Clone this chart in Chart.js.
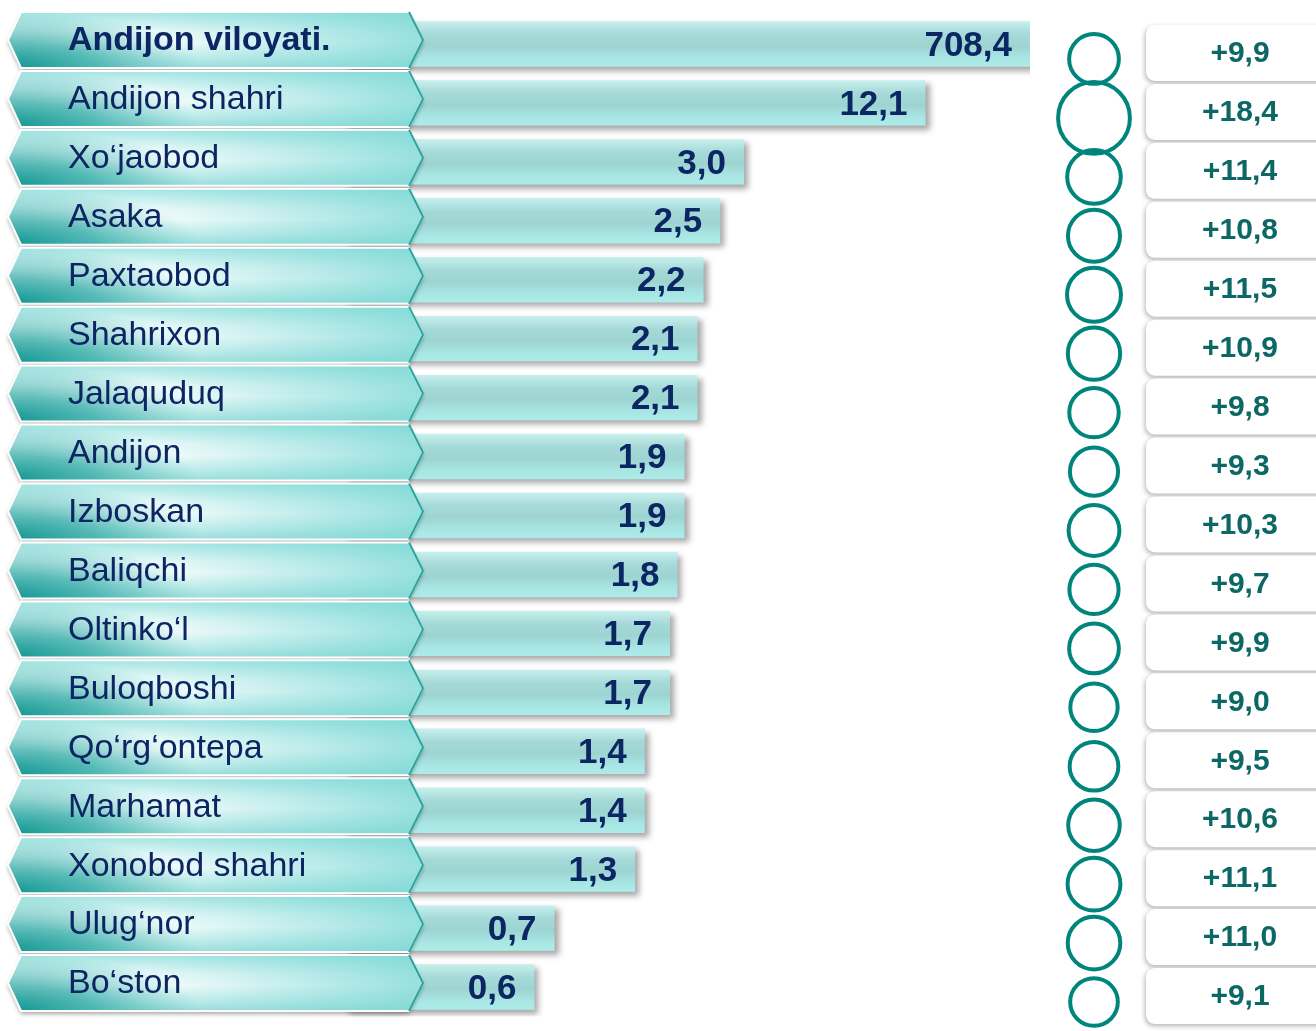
<!DOCTYPE html>
<html lang="uz">
<head>
    <meta charset="UTF-8">
    <title>Andijon viloyati</title>
    <script src="https://cdn.jsdelivr.net/npm/chart.js"></script>
    <style>
        html, body { margin: 0; padding: 0; background: #ffffff; }
        canvas { display: block; }
    </style>
</head>
<body>
    <canvas id="regionChart" width="1316" height="1031"></canvas>

    <script>
        // Data
        const regions = ['Andijon viloyati.', 'Andijon shahri', 'Xo‘jaobod', 'Asaka', 'Paxtaobod', 'Shahrixon', 'Jalaquduq', 'Andijon', 'Izboskan', 'Baliqchi', 'Oltinko‘l', 'Buloqboshi', 'Qo‘rg‘ontepa', 'Marhamat', 'Xonobod shahri', 'Ulug‘nor', 'Bo‘ston'];
        const volume = [708.4, 12.1, 3.0, 2.5, 2.2, 2.1, 2.1, 1.9, 1.9, 1.8, 1.7, 1.7, 1.4, 1.4, 1.3, 0.7, 0.6];
        const growth = [9.9, 18.4, 11.4, 10.8, 11.5, 10.9, 9.8, 9.3, 10.3, 9.7, 9.9, 9.0, 9.5, 10.6, 11.1, 11.0, 9.1];

        const fmt = v => v.toFixed(1).replace('.', ',');
        const navy = '#0b2662';
        const teal = '#00857d';
        const font = '"Liberation Sans", Arial, sans-serif';

        // bar fill: vertical gradient per row
        function barFill(ctx) {
            const chart = ctx.chart;
            const y = chart.scales.y ? chart.scales.y.getPixelForValue(ctx.dataIndex) : NaN;
            if (!isFinite(y)) return '#a2dedb';
            const g = chart.ctx.createLinearGradient(0, y - 23, 0, y + 23);
            g.addColorStop(0, '#c8f0ee');
            g.addColorStop(0.3, '#a4d9d7');
            g.addColorStop(0.55, '#9dd4d2');
            g.addColorStop(0.8, '#a8e6e3');
            g.addColorStop(1, '#aeece9');
            return g;
        }

        // shadow under bars
        const barShadow = {
            id: 'barShadow',
            beforeDatasetsDraw(chart) {
                const c = chart.ctx;
                c.save();
                c.shadowColor = 'rgba(0,0,0,0.35)';
                c.shadowBlur = 6;
                c.shadowOffsetX = 4;
                c.shadowOffsetY = 4;
            },
            afterDatasetsDraw(chart) {
                chart.ctx.restore();
            }
        };

        function labelPath(c, yl, top, bot) {
            c.beginPath();
            c.moveTo(8, yl);
            c.lineTo(21, top);
            c.lineTo(409, top);
            c.lineTo(423, yl);
            c.lineTo(409, bot);
            c.lineTo(21, bot);
            c.closePath();
        }

        // arrow-shaped region labels, values, circles and growth boxes
        const decorations = {
            id: 'decorations',
            afterDatasetsDraw(chart) {
                const c = chart.ctx;
                const yScale = chart.scales.y;
                const area = chart.chartArea;
                const meta = chart.getDatasetMeta(0);

                regions.forEach((name, i) => {
                    const yc = yScale.getPixelForValue(i);
                    const yl = yc - 4;
                    const top = yl - 28, bot = yl + 28;

                    // label box
                    c.save();
                    labelPath(c, yl, top, bot);
                    const g = c.createLinearGradient(0, top, 0, bot);
                    g.addColorStop(0, '#a3e5e2');
                    g.addColorStop(0.35, '#e9f9f9');
                    g.addColorStop(0.55, '#f7fdfd');
                    g.addColorStop(0.8, '#c9efee');
                    g.addColorStop(1, '#9fdedb');
                    c.shadowColor = 'rgba(0,0,0,0.35)';
                    c.shadowBlur = 4;
                    c.shadowOffsetY = 3;
                    c.fillStyle = g;
                    c.fill();
                    c.shadowColor = 'transparent';

                    // dark teal patch at the lower left, light aqua to the upper right
                    c.save();
                    labelPath(c, yl, top, bot);
                    c.clip();
                    c.translate(10, bot);
                    c.scale(1, 0.3);
                    const rg = c.createRadialGradient(0, 0, 0, 0, 0, 190);
                    rg.addColorStop(0, 'rgba(18,150,145,1)');
                    rg.addColorStop(0.45, 'rgba(40,165,160,0.7)');
                    rg.addColorStop(1, 'rgba(60,180,175,0)');
                    c.fillStyle = rg;
                    c.fillRect(-20, -250, 450, 300);
                    c.restore();

                    c.save();
                    labelPath(c, yl, top, bot);
                    c.clip();
                    const hg = c.createLinearGradient(150, 0, 423, 0);
                    hg.addColorStop(0, 'rgba(120,215,212,0)');
                    hg.addColorStop(1, 'rgba(120,215,212,0.75)');
                    c.fillStyle = hg;
                    c.fillRect(0, top, 430, bot - top);
                    c.restore();

                    c.lineWidth = 2;
                    c.strokeStyle = '#ffffff';
                    labelPath(c, yl, top, bot);
                    c.stroke();
                    c.beginPath();
                    c.moveTo(409, top);
                    c.lineTo(423, yl);
                    c.lineTo(409, bot);
                    c.strokeStyle = '#27a39e';
                    c.stroke();
                    c.restore();

                    c.save();
                    c.fillStyle = navy;
                    c.font = (i === 0 ? 'bold ' : '') + '34px ' + font;
                    c.textBaseline = 'middle';
                    c.textAlign = 'left';
                    c.fillText(name, 68, yl + 1);
                    c.restore();

                    // value at bar end
                    const bar = meta.data[i];
                    const xEnd = Math.min(bar.x, area.right);
                    c.save();
                    c.fillStyle = navy;
                    c.font = 'bold 35px ' + font;
                    c.textAlign = 'right';
                    c.textBaseline = 'middle';
                    c.fillText(fmt(volume[i]), xEnd - 18, yc + 2);
                    c.restore();

                    // growth circle
                    c.save();
                    c.beginPath();
                    c.arc(1094, yc + 15, 12 + 1.3 * growth[i], 0, Math.PI * 2);
                    c.lineWidth = 4;
                    c.strokeStyle = teal;
                    c.stroke();
                    c.restore();

                    // growth box
                    const by = yc + 9;
                    c.save();
                    c.beginPath();
                    c.roundRect(1146, by - 28, 200, 56, 9);
                    c.shadowColor = 'rgba(0,0,0,0.3)';
                    c.shadowBlur = 5;
                    c.shadowOffsetX = -1;
                    c.shadowOffsetY = 2;
                    c.fillStyle = '#ffffff';
                    c.fill();
                    c.restore();

                    c.save();
                    c.fillStyle = '#0b6864';
                    c.font = 'bold 30px ' + font;
                    c.textAlign = 'center';
                    c.textBaseline = 'middle';
                    c.fillText('+' + fmt(growth[i]), 1240, by + 1);
                    c.restore();
                });
            }
        };

        const ctx = document.getElementById('regionChart').getContext('2d');
        const regionChart = new Chart(ctx, {
            type: 'bar',
            data: {
                labels: regions,
                datasets: [{
                    data: volume,
                    backgroundColor: barFill,
                    borderWidth: 0,
                    categoryPercentage: 1,
                    barPercentage: 0.77
                }]
            },
            options: {
                indexAxis: 'y',
                responsive: false,
                animation: false,
                layout: { padding: { left: 345, right: 286, top: 14.5, bottom: 14.5 } },
                scales: {
                    x: { type: 'logarithmic', min: 0.14, max: 27, display: false },
                    y: { display: false }
                },
                plugins: {
                    legend: { display: false },
                    tooltip: { enabled: false }
                }
            },
            plugins: [barShadow, decorations]
        });
    </script>
</body>
</html>
